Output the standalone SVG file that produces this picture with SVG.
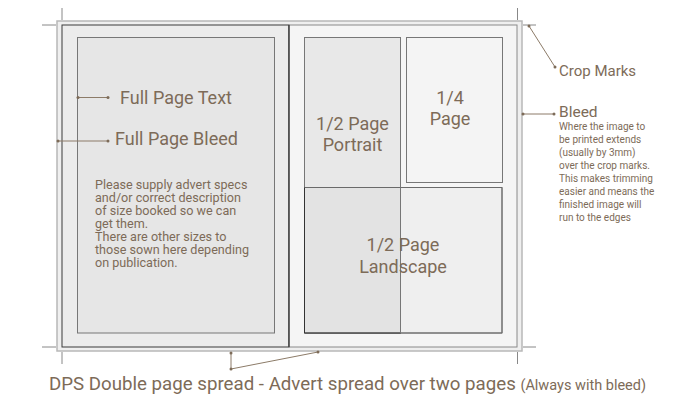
<svg xmlns="http://www.w3.org/2000/svg" width="700" height="400" viewBox="0 0 700 400">
<style>
text{font-family:Roboto,"Liberation Sans",sans-serif;fill:#7d6b58}
.t18{font-size:18px}
.mid{text-anchor:middle}
.lead{stroke:#8c7b68;stroke-width:1;fill:none}
.dot{fill:#7d6b58}
.crop{stroke:#888;stroke-width:1}
.box{stroke:#777;stroke-width:1}
</style>
<rect width="700" height="400" fill="#fff"/>
<g id="bleed">
<rect x="57" y="21" width="465" height="330" fill="#efefef" stroke="#b8b8b8" stroke-width="1.5"/>
</g>
<g id="left-page">
<rect x="62" y="25" width="227" height="322" fill="#ececec" stroke="#3a3a3a" stroke-width="1"/>
<rect x="77.5" y="37.5" width="197" height="295.5" fill="#e6e6e6" class="box"/>
</g>
<g id="right-page">
<rect x="289" y="25" width="228" height="322" fill="#f5f5f5" stroke="#8a8a8a" stroke-width="1"/>
<line x1="289" y1="25" x2="289" y2="347" stroke="#2e2e2e" stroke-width="1.2"/>
</g>
<g id="half-portrait">
<rect x="304.5" y="37.5" width="96" height="295.5" fill="#e8e8e8" class="box"/>
</g>
<g id="quarter">
<rect x="406.5" y="37.5" width="96" height="145" fill="#f4f4f4" class="box"/>
</g>
<g id="half-landscape">
<rect x="400.5" y="187.5" width="101.5" height="145.5" fill="#efefef" class="box"/>
<rect x="304.5" y="187.5" width="96" height="145.5" fill="#e3e3e3" stroke="none"/>
<path d="M304.5 187.5 H502 V333 H304.5 Z" fill="none" stroke="#6a6a6a" stroke-width="1"/>
<path d="M304.5 187.5 V333 H400.5" fill="none" stroke="#333" stroke-width="1"/>
<line x1="400.5" y1="187.5" x2="400.5" y2="333" stroke="#777" stroke-width="1"/>
</g>
<g id="crop-marks">
<line class="crop" x1="62" y1="8" x2="62" y2="20"/>
<line class="crop" x1="42" y1="25" x2="56" y2="25"/>
<line class="crop" x1="517.5" y1="8" x2="517.5" y2="20"/>
<line class="crop" x1="523" y1="25" x2="536" y2="25"/>
<line class="crop" x1="42" y1="347" x2="56" y2="347"/>
<line class="crop" x1="62" y1="352" x2="62" y2="364"/>
<line class="crop" x1="523" y1="347" x2="536" y2="347"/>
<line class="crop" x1="517.5" y1="352" x2="517.5" y2="364"/>
</g>
<g id="connectors">
<line class="lead" x1="78" y1="97.5" x2="108" y2="97.5"/>
<circle class="dot" cx="78" cy="97.5" r="1.5"/><circle class="dot" cx="108" cy="97.5" r="1.5"/>
<line class="lead" x1="58" y1="141" x2="108" y2="141"/>
<circle class="dot" cx="58" cy="141" r="1.5"/><circle class="dot" cx="108" cy="141" r="1.5"/>
<line class="lead" x1="529" y1="26" x2="555" y2="67"/>
<circle class="dot" cx="529" cy="26" r="1.5"/><circle class="dot" cx="555" cy="67" r="1.5"/>
<line class="lead" x1="523" y1="114" x2="554" y2="114"/>
<circle class="dot" cx="523" cy="114" r="1.5"/><circle class="dot" cx="554" cy="114" r="1.5"/>
<polyline class="lead" points="231,353 231,369 318,352"/>
<circle class="dot" cx="231" cy="353" r="1.5"/><circle class="dot" cx="231" cy="369" r="1.5"/><circle class="dot" cx="318" cy="352" r="1.5"/>
</g>
<g id="labels">
<text class="t18" x="120" y="104">Full Page Text</text>
<text class="t18" x="115" y="145">Full Page Bleed</text>
<text font-size="12.6" x="95" y="189">
<tspan x="95">Please supply advert specs</tspan>
<tspan x="95" dy="13">and/or correct description</tspan>
<tspan x="95" dy="13">of size booked so we can</tspan>
<tspan x="95" dy="13">get them.</tspan>
<tspan x="95" dy="13">There are other sizes to</tspan>
<tspan x="95" dy="13">those sown here depending</tspan>
<tspan x="95" dy="13">on publication.</tspan>
</text>
<text class="t18 mid" x="352.5" y="130">1/2 Page</text>
<text class="t18 mid" x="352.5" y="151">Portrait</text>
<text class="t18 mid" x="450" y="104">1/4</text>
<text class="t18 mid" x="450" y="125">Page</text>
<text class="t18 mid" x="403" y="251">1/2 Page</text>
<text class="t18 mid" x="403" y="273">Landscape</text>
<text font-size="15" x="559" y="76">Crop Marks</text>
<text font-size="15.5" x="559" y="117">Bleed</text>
<text font-size="10" x="559" y="130">
<tspan x="559">Where the image to</tspan>
<tspan x="559" dy="13">be printed extends</tspan>
<tspan x="559" dy="13">(usually by 3mm)</tspan>
<tspan x="559" dy="13">over the crop marks.</tspan>
<tspan x="559" dy="13">This makes trimming</tspan>
<tspan x="559" dy="13">easier and means the</tspan>
<tspan x="559" dy="13">finished image will</tspan>
<tspan x="559" dy="13">run to the edges</tspan>
</text>
<text font-size="18.7" x="49" y="390">DPS Double page spread - Advert spread over two pages <tspan font-size="14.5">(Always with bleed)</tspan></text>
</g>
</svg>
